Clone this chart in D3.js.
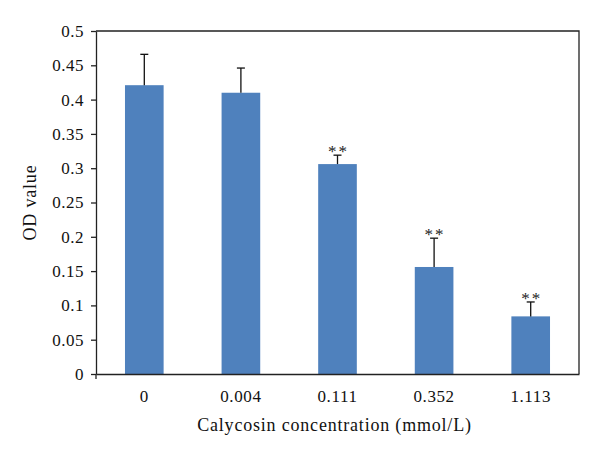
<!DOCTYPE html>
<html><head><meta charset="utf-8">
<script src="https://cdn.jsdelivr.net/npm/d3@7"></script>
<style>body{margin:0;background:#fff}</style>
</head><body>
<script>
const categories = ["0", "0.004", "0.111", "0.352", "1.113"];
const values = [0.421, 0.410, 0.306, 0.156, 0.084];
const errors = [0.045, 0.036, 0.013, 0.042, 0.021];
const marks = ["", "", "**", "**", "**"];
const yTicks = [0, 0.05, 0.1, 0.15, 0.2, 0.25, 0.3, 0.35, 0.4, 0.45, 0.5];

const W = 600, H = 458;
const m = {left: 96, right: 21, top: 31, bottom: 84};
const font = "'Liberation Serif', 'DejaVu Serif', serif";
const svg = d3.select("body").append("svg").attr("width", W).attr("height", H)
  .style("font-family", font);

const x = d3.scaleBand().domain(categories).range([m.left, W - m.right]).paddingInner(0.6).paddingOuter(0.3);
const y = d3.scaleLinear().domain([0, 0.5]).range([H - m.bottom, m.top]);

// frame (top & right)
svg.append("path")
  .attr("d", `M${m.left},${m.top}H${W - m.right}V${H - m.bottom}`)
  .attr("fill", "none").attr("stroke", "#222").attr("stroke-width", 1.3);

// bars
svg.selectAll("rect.bar").data(values).join("rect")
  .attr("x", (d, i) => x(categories[i]))
  .attr("width", x.bandwidth())
  .attr("y", d => y(d))
  .attr("height", d => y(0) - y(d))
  .attr("fill", "#4F81BD");

// error bars
const eb = svg.append("g").attr("stroke", "#111").attr("stroke-width", 1.3);
values.forEach((v, i) => {
  const cx = x(categories[i]) + x.bandwidth() / 2;
  eb.append("line").attr("x1", cx).attr("x2", cx).attr("y1", y(v)).attr("y2", y(v + errors[i]));
  eb.append("line").attr("x1", cx - 4).attr("x2", cx + 4).attr("y1", y(v + errors[i])).attr("y2", y(v + errors[i]));
});

// significance marks
svg.selectAll("text.mark").data(marks).join("text")
  .attr("x", (d, i) => x(categories[i]) + x.bandwidth() / 2 + 1)
  .attr("y", (d, i) => y(values[i] + errors[i]) + 2)
  .attr("text-anchor", "middle")
  .attr("font-size", 17)
  .attr("letter-spacing", 2)
  .attr("fill", "#222")
  .text(d => d);

// y axis
const ya = svg.append("g").attr("transform", `translate(${m.left},0)`)
  .call(d3.axisLeft(y).tickValues(yTicks).tickFormat(d => d3.format("")(+d.toFixed(2))).tickSize(5).tickSizeOuter(0));
ya.select(".domain").attr("stroke", "#222").attr("stroke-width", 1.3);
ya.selectAll(".tick line").attr("stroke", "#222").attr("stroke-width", 1.3);
ya.selectAll(".tick text").attr("font-size", 17).attr("letter-spacing", 0.5).attr("font-family", font).attr("fill", "#111").attr("x", -12);

// x axis
const xa = svg.append("g").attr("transform", `translate(0,${H - m.bottom})`)
  .call(d3.axisBottom(x).tickSize(0).tickPadding(16));
xa.select(".domain").attr("stroke", "#222").attr("stroke-width", 1.3);
xa.selectAll(".tick text").attr("font-size", 17).attr("letter-spacing", 0.6).attr("font-family", font).attr("fill", "#111");
svg.append("line").attr("x1", m.left).attr("x2", m.left).attr("y1", H - m.bottom).attr("y2", H - m.bottom + 5)
  .attr("stroke", "#222").attr("stroke-width", 1.3);

// titles
svg.append("text").attr("x", (m.left + W - m.right) / 2 - 3).attr("y", 431)
  .attr("text-anchor", "middle").attr("font-size", 18).attr("letter-spacing", 0.8).attr("fill", "#111")
  .text("Calycosin concentration (mmol/L)");
svg.append("text").attr("transform", `translate(36,${(m.top + H - m.bottom) / 2}) rotate(-90)`)
  .attr("text-anchor", "middle").attr("font-size", 18).attr("letter-spacing", 0.8).attr("fill", "#111")
  .text("OD value");
</script>
</body></html>
